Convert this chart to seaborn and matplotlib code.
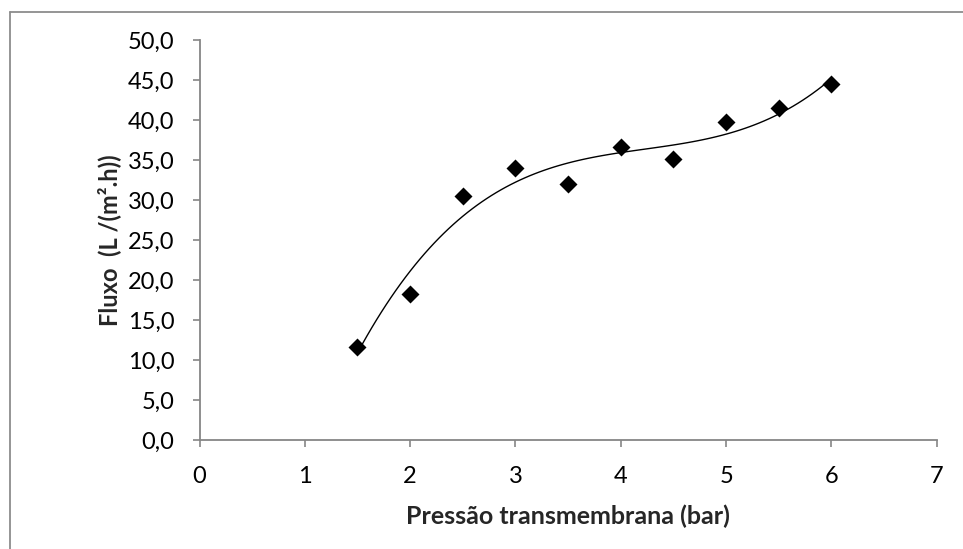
import matplotlib
matplotlib.use("Agg")
import matplotlib.pyplot as plt
from matplotlib.lines import Line2D
import seaborn as sns
import pandas as pd

# Transmembrane pressure (bar) and permeate flux L/(m².h)
pressao = [1.5, 2.0, 2.5, 3.0, 3.5, 4.0, 4.5, 5.0, 5.5, 6.0]
fluxo = [11.6, 18.3, 30.5, 34.0, 32.0, 36.6, 35.1, 39.7, 41.5, 44.5]

x_ticks = [0, 1, 2, 3, 4, 5, 6, 7]
y_ticks = [0, 5, 10, 15, 20, 25, 30, 35, 40, 45, 50]
y_tick_labels = [f"{v:.1f}".replace(".", ",") for v in y_ticks]

df = pd.DataFrame({"pressao": pressao, "fluxo": fluxo})

sns.set_theme(style="white")
plt.rcParams["font.family"] = ["Lato", "DejaVu Sans"]

fig = plt.figure(figsize=(9.63, 5.49), dpi=100)
ax = fig.add_axes([0.2072, 0.1985, 0.7655, 0.7286])

# third-order polynomial trendline
sns.regplot(data=df, x="pressao", y="fluxo", order=3, ci=None, scatter=False,
            truncate=True, ax=ax, line_kws={"color": "black", "lw": 1.0})
sns.scatterplot(data=df, x="pressao", y="fluxo", marker="D", s=84,
                color="black", edgecolor="black", linewidth=0, ax=ax, zorder=3)

ax.set_xlim(0, 7)
ax.set_ylim(0, 50)
ax.set_xticks(x_ticks)
ax.set_xticklabels([str(v) for v in x_ticks])
ax.set_yticks(y_ticks)
ax.set_yticklabels(y_tick_labels)

spine_color = "#868686"
for side in ["top", "right"]:
    ax.spines[side].set_visible(False)
for side in ["left", "bottom"]:
    ax.spines[side].set_color(spine_color)
    ax.spines[side].set_linewidth(1.3)

ax.tick_params(axis="both", which="major", direction="out", length=5,
               width=1.2, color=spine_color, labelcolor="black", labelsize=17,
               left=True, bottom=True)
ax.tick_params(axis="x", pad=14)
ax.tick_params(axis="y", pad=13)

ax.set_xlabel("Pressão transmembrana (bar)", fontsize=18, fontweight="bold",
              labelpad=12)
ax.set_ylabel("Fluxo  (L /(m².h))", fontsize=17, fontweight="bold", labelpad=5)

# chart-area frame (top and left edges)
frame_kw = dict(color="#8c8c8c", lw=1.3, transform=fig.transFigure)
fig.add_artist(Line2D([10 / 963, 1.0], [1 - 12 / 549, 1 - 12 / 549], **frame_kw))
fig.add_artist(Line2D([10 / 963, 10 / 963], [0.0, 1 - 12 / 549], **frame_kw))

fig.savefig("out.png", dpi=100, facecolor="white")
